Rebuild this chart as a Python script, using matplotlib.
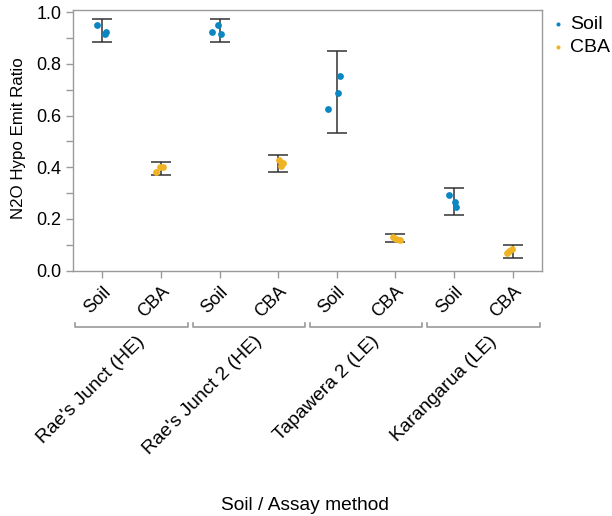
import numpy as np
import matplotlib
matplotlib.use("Agg")
import matplotlib.pyplot as plt
import matplotlib.transforms as mtransforms

plt.rcParams['font.family'] = ['Liberation Sans', 'DejaVu Sans']

# Data
sites = ["Rae's Junct (HE)", "Rae's Junct 2 (HE)", "Tapawera 2 (LE)", "Karangarua (LE)"]
methods = ["Soil", "CBA"]

soil_vals = [[0.950, 0.925, 0.916], [0.925, 0.950, 0.916],
             [0.754, 0.689, 0.627], [0.292, 0.267, 0.248]]
cba_vals = [[0.381, 0.400, 0.400], [0.428, 0.415, 0.406],
            [0.129, 0.119, 0.124], [0.067, 0.084, 0.076]]
# jitter of the points (category units)
soil_jit = [[-0.086, 0.058, 0.041], [-0.127, -0.024, 0.017],
            [0.057, 0.028, -0.145], [-0.093, 0.010, 0.040]]
cba_jit = [[-0.086, -0.012, 0.028], [0.010, 0.086, 0.040],
           [-0.040, 0.086, 0.017], [-0.103, -0.017, -0.069]]
# error bar low / high
soil_lo = [0.886, 0.886, 0.532, 0.215]
soil_hi = [0.974, 0.974, 0.849, 0.321]
cba_lo = [0.370, 0.383, 0.110, 0.050]
cba_hi = [0.420, 0.446, 0.141, 0.098]

c_soil = '#0a86c2'
c_cba = '#f0b323'
grey = '#9a9a9a'

fig = plt.figure(figsize=(6.12, 5.16), dpi=100)
ax = fig.add_axes([73/612, 1-270.7/516, 469/612, 260.7/516])

for i in range(len(sites)):
    xs = 2*i
    xc = 2*i + 1
    for x, lo, hi in [(xs, soil_lo[i], soil_hi[i]), (xc, cba_lo[i], cba_hi[i])]:
        mid = (lo + hi) / 2
        ax.errorbar(x, mid, yerr=[[mid-lo], [hi-mid]], fmt='none', ecolor='#333333',
                    elinewidth=1.1, capsize=7.5, capthick=1.1, zorder=2)
    ax.scatter(xs + np.array(soil_jit[i]), soil_vals[i], s=24, color=c_soil,
               linewidths=0, zorder=3, label='Soil' if i == 0 else None)
    ax.scatter(xc + np.array(cba_jit[i]), cba_vals[i], s=24, color=c_cba,
               linewidths=0, zorder=3, label='CBA' if i == 0 else None)

ax.set_xlim(-0.5, 7.5)
ax.set_ylim(0, 1.0085)
ax.set_yticks(np.arange(0, 1.01, 0.2))
ax.set_yticks(np.arange(0.1, 1.0, 0.2), minor=True)
ax.set_yticklabels(['%.1f' % v for v in np.arange(0, 1.01, 0.2)])
ax.set_xticks(range(8))
ax.set_xticklabels(methods * 4, rotation=45, ha='right', rotation_mode='anchor')
offset = mtransforms.ScaledTranslation(8/100, 0, fig.dpi_scale_trans)
for lab in ax.get_xticklabels():
    lab.set_transform(lab.get_transform() + offset)

for sp in ax.spines.values():
    sp.set_color(grey)
    sp.set_linewidth(1.0)
ax.tick_params(axis='both', which='both', color=grey, labelsize=13, length=5, width=1.0)
ax.tick_params(axis='y', which='minor', length=5)
ax.tick_params(axis='x', pad=4)

# group brackets and labels below the axis
trans = mtransforms.blended_transform_factory(ax.transData, ax.transAxes)
h = 260.7
yb = -(326.7 - 270.7) / h
yt = yb + 4 / h
for i, s in enumerate(sites):
    c = 2*i + 0.5
    ax.plot([c-0.96, c-0.96, c+0.96, c+0.96], [yt, yb, yb, yt], color=grey,
            lw=1.2, transform=trans, clip_on=False)
    ax.text(c + 0.08, yb - 6/h, s, transform=trans, rotation=45, ha='right', va='top',
            rotation_mode='anchor', fontsize=13.8)

ax.set_ylabel('N2O Hypo Emit Ratio', fontsize=12.2)
ax.yaxis.set_label_coords(-0.100, 0.51)
fig.text(305/612, 1-505/516, 'Soil / Assay method', ha='center', va='center', fontsize=13.8)

ax.legend(loc='upper left', bbox_to_anchor=(1.0, 1.01), frameon=False, fontsize=14,
          handletextpad=0.25, markerscale=0.6, handlelength=0.8, labelspacing=0.3,
          borderaxespad=0)

fig.savefig('out.png', dpi=100)
